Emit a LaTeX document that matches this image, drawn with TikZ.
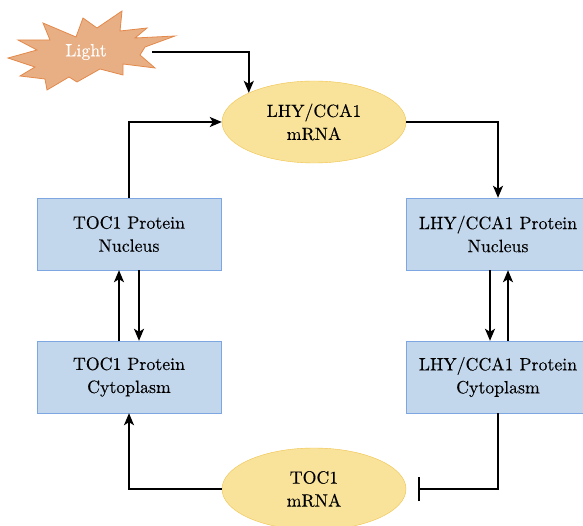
\documentclass[tikz,border=0pt]{standalone}
\usepackage{fontspec}
\setmainfont{lmroman10-regular.otf}[FakeBold=0.2]
\usetikzlibrary{arrows.meta}
\usetikzlibrary{shapes.geometric}
\usetikzlibrary{positioning}

\definecolor{boxfill}{HTML}{C2D6EC}
\definecolor{boxline}{HTML}{7EA6E0}
\definecolor{rnafill}{HTML}{F9E39B}
\definecolor{rnaline}{HTML}{F0C24A}
\definecolor{starfill}{HTML}{E9AF84}
\definecolor{starline}{HTML}{E3894B}

\begin{document}
\begin{tikzpicture}[x=1pt, y=-1pt,
  protein/.style={draw=boxline, fill=boxfill, minimum width=184pt, minimum height=72pt,
    align=center, inner sep=0pt, font=\fontsize{17.8}{23}\selectfont},
  rna/.style={ellipse, draw=rnaline, fill=rnafill, minimum width=184pt, minimum height=82pt,
    align=center, inner sep=0pt, font=\fontsize{17.8}{23}\selectfont},
  link/.style={line width=1.7pt, -{Stealth[length=12pt, width=10pt, inset=3pt]}},
  inhibit/.style={line width=1.7pt, -{Bar[width=24pt, line width=1.7pt]}}]
  \useasboundingbox (0, 0) rectangle (583, 526);

  % light burst
  \draw[fill=starfill, draw=starline, line width=0.8pt]
    (43,23) -- (76,37) -- (83,18) -- (97,28) -- (122,11) -- (120,31)
    -- (147,28) -- (135,38) -- (175,36) -- (145,47) -- (140,55) -- (155,68)
    -- (123,64) -- (123,75) -- (100,69) -- (77,82) -- (69,77) -- (47,90)
    -- (45,79) -- (20,76) -- (35,67) -- (8,58) -- (37,50) -- (18,40)
    -- (50,40) -- cycle;
  \node[text=white, minimum width=132pt, inner sep=0pt,
        font=\fontsize{17.8}{23}\selectfont] (light) at (86, 52) {Light};

  % mRNA
  \node[rna] (lmrna) at (314, 122) {LHY/CCA1\\mRNA};
  \node[rna] (tmrna) at (314, 489) {TOC1\\mRNA};

  % proteins
  \node[protein] (tnuc) at (129, 234) {TOC1 Protein\\Nucleus};
  \node[protein] (tcyt) at (129, 377) {TOC1 Protein\\Cytoplasm};
  \node[protein] (lnuc) at (498, 234) {LHY/CCA1 Protein\\Nucleus};
  \node[protein] (lcyt) at (498, 377) {LHY/CCA1 Protein\\Cytoplasm};

  % loop
  \draw[link] (light.east) -| (lmrna.north west);
  \draw[link] (tnuc.north) |- (lmrna.west);
  \draw[link] (lmrna.east) -| (lnuc.north);
  \draw[link] ([xshift=-8pt]lnuc.south) -- ([xshift=-8pt]lcyt.north);
  \draw[link] ([xshift=10pt]lcyt.north) -- ([xshift=10pt]lnuc.south);
  \draw[inhibit, shorten >=12pt] (lcyt.south) |- (tmrna.east);
  \draw[link] (tmrna.west) -| (tcyt.south);
  \draw[link] ([xshift=-10pt]tcyt.north) -- ([xshift=-10pt]tnuc.south);
  \draw[link] ([xshift=10pt]tnuc.south) -- ([xshift=10pt]tcyt.north);
\end{tikzpicture}
\end{document}
